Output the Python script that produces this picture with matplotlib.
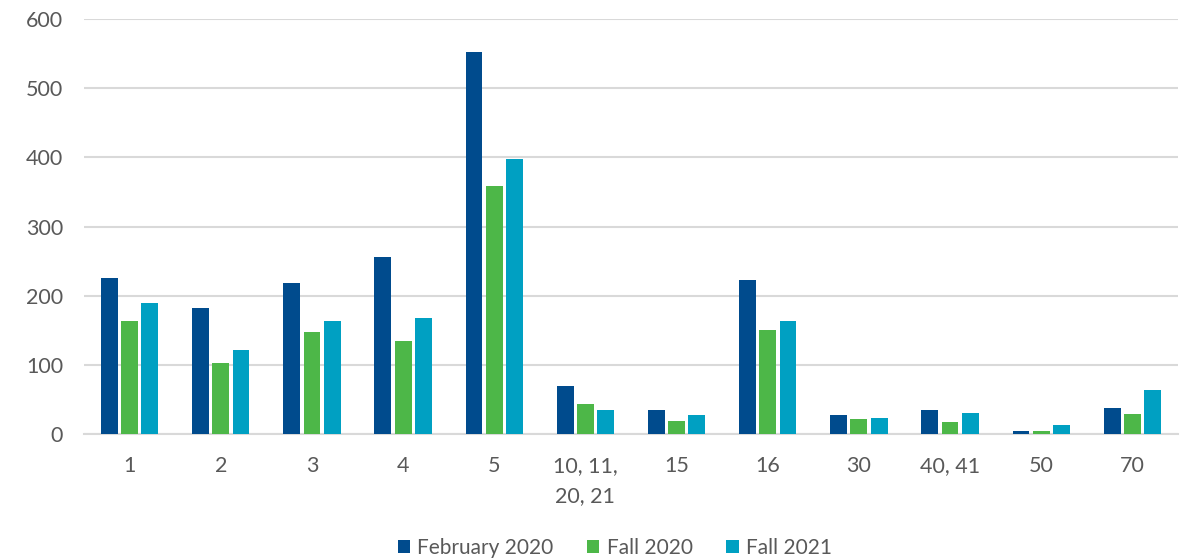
import matplotlib
matplotlib.use("Agg")
import matplotlib.pyplot as plt
import numpy as np

categories = ["1", "2", "3", "4", "5", "10, 11,\n20, 21", "15", "16", "30", "40, 41", "50", "70"]
feb_2020 = [225, 182, 219, 256, 552, 70, 35, 223, 28, 34, 5, 37]
fall_2020 = [164, 102, 147, 135, 358, 43, 19, 151, 21, 18, 5, 29]
fall_2021 = [189, 122, 164, 168, 398, 34, 28, 164, 23, 31, 13, 64]
series_names = ["February 2020", "Fall 2020", "Fall 2021"]
colors = ["#004B8D", "#4DB748", "#00A0C2"]

plt.rcParams['font.family'] = ['Lato', 'DejaVu Sans']
fig = plt.figure(figsize=(11.89, 5.60), dpi=100)
ax = fig.add_axes([0.0707, 0.225, 0.920, 0.741])

x = np.arange(len(categories))
w = 0.185
step = 0.222
for i, (vals, name, c) in enumerate(zip([feb_2020, fall_2020, fall_2021], series_names, colors)):
    ax.bar(x + (i - 1) * step, vals, width=w, color=c, label=name, zorder=3,
           edgecolor="none")

ax.set_xlim(-0.5, len(categories) - 0.5)
ax.set_ylim(0, 600)
ax.set_yticks(range(0, 601, 100))
ax.yaxis.grid(True, color="#D9D9D9", linewidth=1.5, zorder=0)
ax.set_axisbelow(True)
for s in ["top", "right", "left"]:
    ax.spines[s].set_visible(False)
ax.spines["bottom"].set_color("#D9D9D9")
ax.spines["bottom"].set_linewidth(1.5)
ax.set_xticks(x)
ax.set_xticklabels(categories, linespacing=1.6)
ax.tick_params(axis="both", length=0, labelsize=15.5, colors="#595959")
ax.tick_params(axis="x", pad=16)
ax.tick_params(axis="y", pad=15)

leg = fig.legend(loc="center", bbox_to_anchor=(0.517, 0.022), ncol=3, frameon=False,
                 fontsize=15, handlelength=0.6, handleheight=0.6, columnspacing=1.6,
                 handletextpad=0.35)
for t in leg.get_texts():
    t.set_color("#595959")

fig.savefig("out.png", dpi=100)
